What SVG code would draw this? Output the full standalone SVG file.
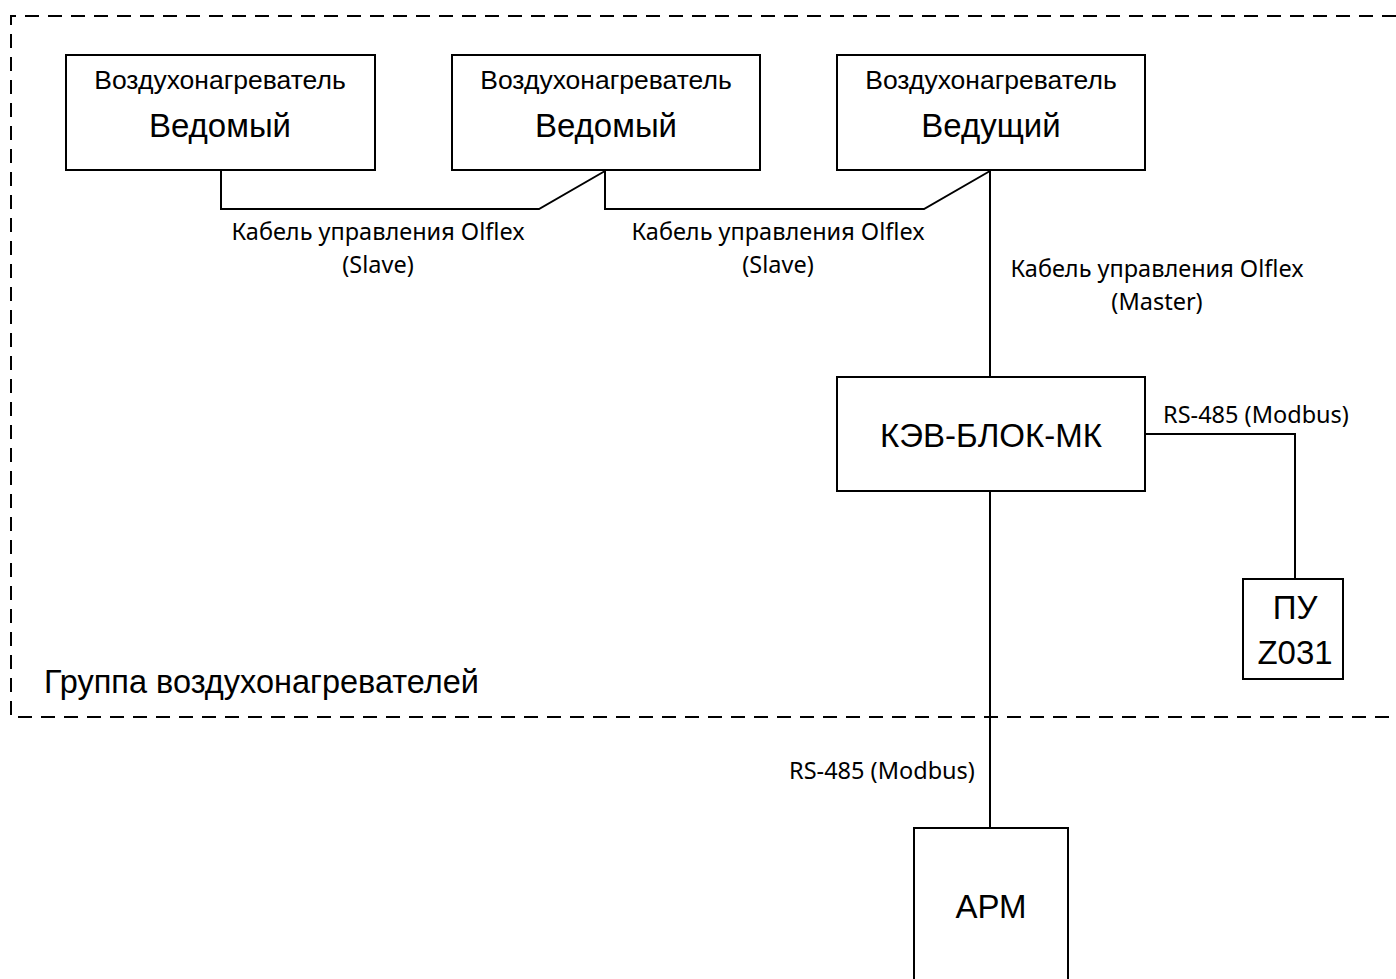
<svg xmlns="http://www.w3.org/2000/svg" width="1396" height="979" viewBox="0 0 1396 979">
<style>
.box{fill:#fff;stroke:#000;stroke-width:2}
.ln{fill:none;stroke:#000;stroke-width:2}
.t1{font-family:"Liberation Sans",Arial,sans-serif;font-size:26.5px;fill:#000;text-anchor:middle}
.t2{font-family:"Liberation Sans",Arial,sans-serif;font-size:33px;fill:#000;text-anchor:middle}
.lb{font-family:"Noto Sans","Open Sans",sans-serif;font-size:23.5px;fill:#000;text-anchor:middle}
</style>
<rect width="1396" height="979" fill="#fff"/>
<g id="group">
<path d="M1396,16 H11 V717 H1396" fill="none" stroke="#000" stroke-width="2" stroke-dasharray="14,9"/>
<text x="44" y="693" font-family="Liberation Sans,Arial,sans-serif" font-size="32.5" fill="#000">Группа воздухонагревателей</text>
</g>
<g id="connectors">
<polyline class="ln" points="221,170 221,209 539,209 605,171"/>
<polyline class="ln" points="605,170 605,209 924,209 990,171"/>
<line class="ln" x1="990" y1="170" x2="990" y2="377"/>
<polyline class="ln" points="1145,434 1295,434 1295,579"/>
<line class="ln" x1="990" y1="491" x2="990" y2="828"/>
<text class="lb" x="378" y="240">Кабель управления Olflex</text>
<text class="lb" x="378" y="273">(Slave)</text>
<text class="lb" x="778" y="240">Кабель управления Olflex</text>
<text class="lb" x="778" y="273">(Slave)</text>
<text class="lb" x="1157" y="277">Кабель управления Olflex</text>
<text class="lb" x="1157" y="310">(Master)</text>
<text class="lb" x="1256" y="423">RS-485 (Modbus)</text>
<text class="lb" x="882" y="779">RS-485 (Modbus)</text>
</g>
<g id="heater1">
<rect class="box" x="66" y="55" width="309" height="115"/>
<text class="t1" x="220" y="89">Воздухонагреватель</text>
<text class="t2" x="220" y="137">Ведомый</text>
</g>
<g id="heater2">
<rect class="box" x="452" y="55" width="308" height="115"/>
<text class="t1" x="606" y="89">Воздухонагреватель</text>
<text class="t2" x="606" y="137">Ведомый</text>
</g>
<g id="heater3">
<rect class="box" x="837" y="55" width="308" height="115"/>
<text class="t1" x="991" y="89">Воздухонагреватель</text>
<text class="t2" x="991" y="137">Ведущий</text>
</g>
<g id="kev">
<rect class="box" x="837" y="377" width="308" height="114"/>
<text class="t2" x="991" y="447">КЭВ-БЛОК-МК</text>
</g>
<g id="pu">
<rect class="box" x="1243" y="579" width="100" height="100"/>
<text class="t2" x="1295" y="619">ПУ</text>
<text class="t2" x="1295" y="664">Z031</text>
</g>
<g id="arm">
<rect class="box" x="914" y="828" width="154" height="160"/>
<text class="t2" x="991" y="918">АРМ</text>
</g>
</svg>
